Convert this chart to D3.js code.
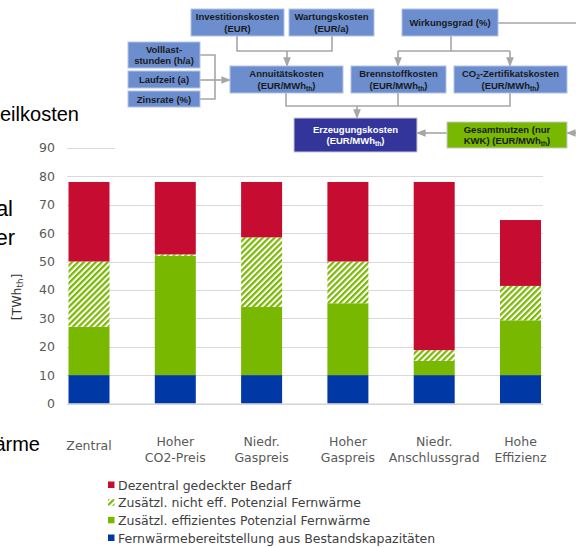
<!DOCTYPE html>
<html><head><meta charset="utf-8">
<script src="https://cdn.jsdelivr.net/npm/d3@7"></script>
<style>body{margin:0;background:#fff}svg{display:block}</style>
</head><body>
<svg id="c" width="576" height="547"></svg>
<script>
// ---------- data ----------
const categories = ["Zentral","Hoher CO2-Preis","Niedr. Gaspreis","Hoher Gaspreis","Niedr. Anschlussgrad","Hohe Effizienz"];
const categoryLines = [["Zentral"],["Hoher","CO2-Preis"],["Niedr.","Gaspreis"],["Hoher","Gaspreis"],["Niedr.","Anschlussgrad"],["Hohe","Effizienz"]];
const bestand        = [10, 10, 10, 10, 10, 10];
const effizient      = [17, 42, 24, 25.3, 5, 19.3];
const nichtEffizient = [23, 0.5, 24.5, 14.7, 3.8, 12.1];
const dezentral      = [28, 25.5, 19.5, 28, 59.2, 23.2];
const seriesKeys  = ["bestand","effizient","nichtEffizient","dezentral"];
const seriesNames = ["Fernwärmebereitstellung aus Bestandskapazitäten","Zusätzl. effizientes Potenzial Fernwärme","Zusätzl. nicht eff. Potenzial Fernwärme","Dezentral gedeckter Bedarf"];
const legendOrder = ["dezentral","nichtEffizient","effizient","bestand"];
const yTicks = [0,10,20,30,40,50,60,70,80,90];
const yAxisTitle = "[TWh_{th}]";

// ---------- setup ----------
const svg = d3.select("#c");
const colors = {bestand:"#0039A6", effizient:"#78B800", nichtEffizient:"url(#hatch)", dezentral:"#C60C30"};
const defs = svg.append("defs");
const pat = defs.append("pattern").attr("id","hatch").attr("patternUnits","userSpaceOnUse")
  .attr("width",4.2).attr("height",4.2).attr("patternTransform","rotate(45)");
pat.append("rect").attr("width",4.2).attr("height",4.2).attr("fill","#fff");
pat.append("rect").attr("x",0).attr("width",2.2).attr("height",4.2).attr("fill","#78B800");

const rows = categories.map((c,i)=>({cat:c, bestand:bestand[i], effizient:effizient[i], nichtEffizient:nichtEffizient[i], dezentral:dezentral[i]}));
const stacked = d3.stack().keys(seriesKeys)(rows);

const y = d3.scaleLinear().domain([0,90]).range([403.5,147.9]);
const x = d3.scaleBand().domain(categories).range([45.85,563.65]).paddingInner(0.525).paddingOuter(0.2625);
const gridX0 = 67, gridX1 = 543;

// slide text behind (partially visible)
const slide = svg.append("g").attr("font-family","'Liberation Sans', Arial, sans-serif").attr("fill","#000");
slide.append("text").attr("x",0).attr("y",121).attr("font-size",20).text("eilkosten");
slide.append("text").attr("x",13).attr("y",216).attr("font-size",22).attr("text-anchor","end").text("al");
slide.append("text").attr("x",15).attr("y",245).attr("font-size",22).attr("text-anchor","end").text("er");
slide.append("text").attr("x",40).attr("y",451).attr("font-size",20).attr("text-anchor","end").text("ärme");

// gridlines
svg.append("g").selectAll("line").data(yTicks).join("line")
  .attr("x1",gridX0).attr("x2",gridX1)
  .attr("y1",d=>Math.round(y(d))+0.5).attr("y2",d=>Math.round(y(d))+0.5)
  .attr("stroke","#d9d9d9").attr("stroke-width",1.2);

// y axis labels
const yAxis = svg.append("g").attr("transform","translate(58,0)")
  .call(d3.axisLeft(y).tickValues(yTicks).tickSize(0).tickPadding(3).tickFormat(d3.format("d")));
yAxis.select(".domain").remove();
yAxis.selectAll("text").attr("font-family","'DejaVu Sans', sans-serif").attr("font-size",12.5).attr("fill","#595959");

// rich text with subscripts: "_{..}"
function richText(sel, str, baseSize){
  const parts = str.split(/(_\{[^}]*\})/).filter(s=>s.length);
  parts.forEach(p=>{
    if(p.startsWith("_{")){
      sel.append("tspan").attr("font-size",baseSize*0.7).attr("baseline-shift","-25%").text(p.slice(2,-1));
    } else sel.append("tspan").text(p);
  });
}
const yt = svg.append("text").attr("transform","translate(21,297) rotate(-90)")
  .attr("text-anchor","middle").attr("font-family","'DejaVu Sans', sans-serif")
  .attr("font-size",12.5).attr("fill","#333");
richText(yt, yAxisTitle, 12.5);

// bars
svg.append("g").selectAll("g").data(stacked).join("g")
  .attr("fill",d=>colors[d.key])
  .selectAll("rect").data(d=>d).join("rect")
  .attr("x",d=>x(d.data.cat)).attr("width",x.bandwidth())
  .attr("y",d=>y(d[1])).attr("height",d=>y(d[0])-y(d[1]));

// baseline
svg.append("line").attr("x1",gridX0).attr("x2",gridX1).attr("y1",404).attr("y2",404).attr("stroke","#d0d0d0").attr("stroke-width",1.2);

// category labels
const cl = svg.append("g").attr("font-family","'DejaVu Sans', sans-serif").attr("font-size",12.5).attr("fill","#595959").attr("text-anchor","middle");
categories.forEach((c,i)=>{
  const lines = categoryLines[i];
  const t = cl.append("text").attr("x",x(c)+x.bandwidth()/2).attr("y", lines.length===1 ? 449.5 : 445.5);
  lines.forEach((l,j)=>t.append("tspan").attr("x",x(c)+x.bandwidth()/2).attr("dy", j===0?0:16.5).text(l));
});

// legend
const lg = svg.append("g").attr("font-family","'DejaVu Sans', sans-serif").attr("font-size",12.5).attr("fill","#404040");
const legendY = d3.scalePoint().domain(legendOrder).range([485,538]);
legendOrder.forEach(k=>{
  const yy = legendY(k);
  lg.append("rect").attr("x",108).attr("y",yy-3.5).attr("width",6.5).attr("height",6.5).attr("fill",colors[k]);
  lg.append("text").attr("x",118).attr("y",yy+4.5).text(seriesNames[seriesKeys.indexOf(k)]);
});

// ---------- flowchart overlay ----------
const fc = svg.append("g");
fc.append("rect").attr("x",115).attr("y",0).attr("width",461).attr("height",156).attr("fill","#fff");
const lineCol = "#a6a6a6";
defs.append("marker").attr("id","arr").attr("viewBox","0 0 10 10").attr("refX",9).attr("refY",5)
  .attr("markerWidth",6).attr("markerHeight",6).attr("orient","auto-start-reverse")
  .append("path").attr("d","M0,1 L10,5 L0,9 z").attr("fill",lineCol);
function pl(pts, arrow){
  const p = fc.append("polyline").attr("points",pts.map(q=>q.join(",")).join(" "))
    .attr("fill","none").attr("stroke",lineCol).attr("stroke-width",1.6);
  if(arrow) p.attr("marker-end","url(#arr)");
}
pl([[237,36],[237,51],[332,51],[332,36]]);
pl([[287,51],[287,66]],true);
pl([[498,23],[576,23]]);
pl([[451,36],[451,51]]);
pl([[398,51],[510,51]]);
pl([[398,51],[398,66]],true);
pl([[510,51],[510,66]],true);
pl([[200,55],[215,55],[215,99],[200,99]]);
pl([[200,80],[230,80]],true);
pl([[286,93],[286,106],[510,106],[510,93]]);
pl([[398,93],[398,106]]);
pl([[357,106],[357,118]],true);
pl([[447,133],[417,133]],true);
pl([[576,133],[567,133]],true);

const boxes = [
  {x:191,y:9,w:93,h:27,t:["Investitionskosten","(EUR)"]},
  {x:289,y:9,w:85,h:27,t:["Wartungskosten","(EUR/a)"]},
  {x:402,y:9,w:96,h:27,t:["Wirkungsgrad (%)"]},
  {x:128,y:42,w:72,h:26,t:["Volllast-","stunden (h/a)"]},
  {x:128,y:71,w:72,h:17,t:["Laufzeit (a)"]},
  {x:128,y:91,w:72,h:16,t:["Zinsrate (%)"]},
  {x:230,y:66,w:113,h:27,t:["Annuitätskosten","(EUR/MWh_{th})"]},
  {x:351,y:66,w:95,h:27,t:["Brennstoffkosten","(EUR/MWh_{th})"]},
  {x:454,y:66,w:113,h:27,t:["CO_{2}-Zertifikatskosten","(EUR/MWh_{th})"]},
  {x:294,y:118,w:123,h:34,t:["Erzeugungskosten","(EUR/MWh_{th})"],fill:"#33359B",tc:"#fff"},
  {x:447,y:122,w:120,h:26,t:["Gesamtnutzen (nur","KWK) (EUR/MWh_{th})"],fill:"#78B800",tc:"#1a1a1a"}
];
boxes.forEach(b=>{
  fc.append("rect").attr("x",b.x).attr("y",b.y).attr("width",b.w).attr("height",b.h)
    .attr("fill",b.fill||"#6C8ECF").attr("stroke",b.fill?"#c8c8d8":"#b3c2e6").attr("stroke-width",1);
  const n = b.t.length, lh = 11.5;
  const cx = b.x+b.w/2, cy = b.y+b.h/2;
  b.t.forEach((line,j)=>{
    const t = fc.append("text").attr("x",cx).attr("y",cy+(j-(n-1)/2)*lh+3.5)
      .attr("text-anchor","middle").attr("font-family","'Liberation Sans', Arial, sans-serif")
      .attr("font-weight","bold").attr("font-size",9.5).attr("fill",b.tc||"#1a1a1a");
    richText(t,line,9.5);
  });
});
</script>
</body></html>
